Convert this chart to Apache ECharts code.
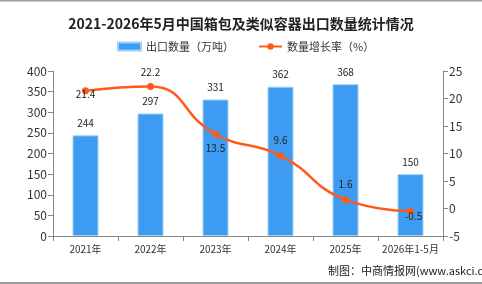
<!DOCTYPE html>
<html>
<head>
<meta charset="utf-8">
<script src="https://cdn.jsdelivr.net/npm/echarts@6/dist/echarts.min.js"></script>
<style>
  html, body { margin: 0; padding: 0; background: #fff; }
  #chart { width: 482px; height: 284px; }
</style>
</head>
<body>
<div id="chart"></div>
<script>
var years = ['2021年', '2022年', '2023年', '2024年', '2025年', '2026年1-5月'];
var volume = [244, 297, 331, 362, 368, 150];
var growth = [21.4, 22.2, 13.5, 9.6, 1.6, -0.5];
// label offsets around each growth point (x, y)
var growthLabelOffset = [[0, 3], [0, -14], [0, 14], [0, -15], [0, -15], [3, 5]];

var chart = echarts.init(document.getElementById('chart'));
var font = '"Noto Sans CJK SC", "Noto Sans", sans-serif';

var option = {
  backgroundColor: '#fff',
  animation: false,
  textStyle: { fontFamily: font },
  title: {
    text: '2021-2026年5月中国箱包及类似容器出口数量统计情况',
    left: 'center',
    top: 12,
    textStyle: { fontSize: 14, fontWeight: 'bold', color: '#222', fontFamily: font }
  },
  legend: {
    top: 36,
    left: 112,
    itemWidth: 23,
    itemHeight: 8,
    itemGap: 24,
    textStyle: { fontSize: 11, color: '#333' },
    data: [
      { name: '出口数量（万吨）', icon: 'rect' },
      { name: '数量增长率（%）' }
    ]
  },
  grid: { left: 53, right: 39, top: 71, bottom: 48 },
  xAxis: {
    type: 'category',
    data: years,
    axisLine: { lineStyle: { color: '#888' } },
    axisTick: { show: true, lineStyle: { color: '#888' } },
    axisLabel: { color: '#333', fontSize: 10, interval: 0, margin: 8 }
  },
  yAxis: [
    {
      type: 'value',
      min: 0, max: 400, interval: 50,
      axisLine: { show: true, lineStyle: { color: '#888' } },
      axisTick: { show: true, lineStyle: { color: '#888' } },
      splitLine: { show: false },
      axisLabel: { color: '#333', fontSize: 12, margin: 6 }
    },
    {
      type: 'value',
      min: -5, max: 25, interval: 5,
      position: 'right',
      axisLine: { show: true, lineStyle: { color: '#888' } },
      axisTick: { show: true, lineStyle: { color: '#888' } },
      splitLine: { show: false },
      axisLabel: { color: '#333', fontSize: 12, margin: 6 }
    }
  ],
  series: [
    {
      name: '出口数量（万吨）',
      type: 'bar',
      data: volume,
      barWidth: 26,
      itemStyle: { color: '#3d9cf2', borderColor: '#9fd0fb', borderWidth: 1 },
      label: { show: true, position: 'top', distance: 7, color: '#222', fontSize: 10 }
    },
    {
      name: '数量增长率（%）',
      type: 'line',
      yAxisIndex: 1,
      smooth: true,
      symbol: 'circle',
      symbolSize: 7,
      data: growth.map(function (v, i) {
        return { value: v, label: { position: 'inside', offset: growthLabelOffset[i] } };
      }),
      lineStyle: { color: '#ff5a1a', width: 2.5 },
      itemStyle: { color: '#ff5a1a' },
      label: { show: true, color: '#222', fontSize: 10 }
    }
  ],
  graphic: [
    { type: 'rect', shape: { x: 0, y: 0, width: 482, height: 1.5 }, style: { fill: '#999' } },
    { type: 'rect', shape: { x: 0, y: 282, width: 482, height: 2 }, style: { fill: '#999' } },
    {
      type: 'text', left: 328, top: 265,
      style: { text: '制图：中商情报网(www.askci.com)', font: '11px ' + font, fill: '#222' }
    }
  ]
};

chart.setOption(option);
</script>
</body>
</html>
